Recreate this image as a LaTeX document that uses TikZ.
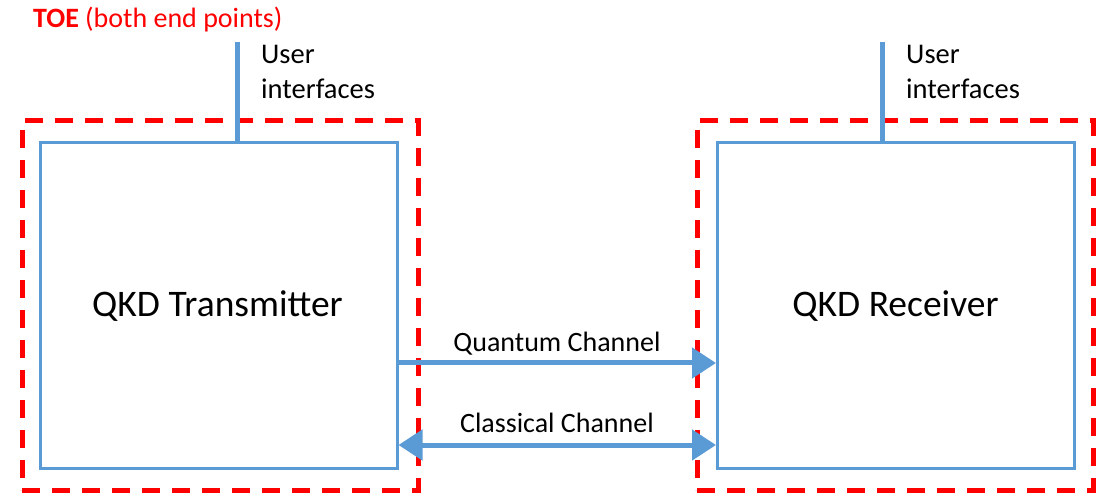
\documentclass[tikz,border=0pt]{standalone}
\usepackage{fontspec}
\setmainfont{Carlito}
\usetikzlibrary{arrows.meta,calc}
\definecolor{qblue}{HTML}{5B9BD5}
\definecolor{qred}{HTML}{FF0000}
\tikzset{bigtip/.tip={Triangle[length=24pt,width=30pt]}}
\begin{document}
\begin{tikzpicture}[x=1pt,y=-1pt,
  dev/.style={draw=qblue,line width=3pt,minimum width=357pt,minimum height=325pt,inner sep=0pt},
  devtxt/.style={font=\fontsize{37.5}{44}\selectfont,inner sep=0pt,anchor=base},
  toe/.style={draw=qred,line width=5pt,dash pattern=on 18pt off 12pt,minimum width=396pt,minimum height=369pt,inner sep=0pt},
  uif/.style={qblue,line width=5pt},
  chan/.style={qblue,line width=5pt},
  lbl/.style={font=\fontsize{28.5}{35}\selectfont,inner sep=0pt,anchor=base west},
  clbl/.style={font=\fontsize{28}{33}\selectfont,inner sep=0pt,anchor=base}
]
\useasboundingbox (0,0) rectangle (1101,494);
\node[toe] (toeL) at (220,305.5) {};
\node[toe] (toeR) at (895,305.5) {};
\node[dev] (tx) at (218.5,305.5) {};
\node[dev] (rx) at (896,305.5) {};
\node[devtxt] (txt) at (217.5,317) {QKD Transmitter};
\node[devtxt] (rxt) at (895.5,317) {QKD Receiver};
\coordinate (uL) at (237,42);
\coordinate (uR) at (882,42);
\draw[uif] (uL) -- (uL |- tx.north);
\draw[uif] (uR) -- (uR |- rx.north);
\node[lbl] (uiL1) at (261,64) {User};
\node[lbl] (uiL2) at (261,99) {interfaces};
\node[lbl] (uiR1) at (906,64) {User};
\node[lbl] (uiR2) at (906,99) {interfaces};
\node[anchor=base west,inner sep=0pt,text=qred,font=\fontsize{28}{33}\selectfont] (toelbl) at (33,28) {\textbf{TOE} (both end points)};
\coordinate (qy) at (0,363);
\coordinate (cy) at (0,445);
\draw[chan,-bigtip] (tx.east |- qy) -- (rx.west |- qy);
\draw[chan,bigtip-bigtip] (tx.east |- cy) -- (rx.west |- cy);
\node[clbl] (ql) at (557,352) {Quantum Channel};
\node[clbl] (cl) at (557,432) {Classical Channel};
\end{tikzpicture}
\end{document}
